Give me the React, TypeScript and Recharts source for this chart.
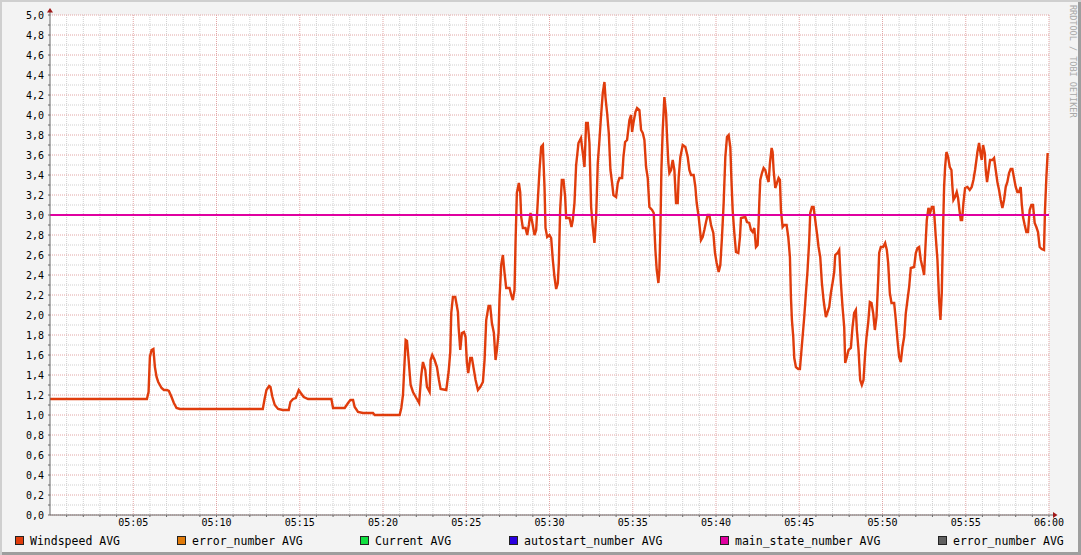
import { LineChart, Line, XAxis, YAxis, CartesianGrid } from 'recharts';

const FONT = '"DejaVu Sans Mono", monospace';

// minutes after 05:00
const windTimes = [
  0, 5.82, 5.92, 6.0, 6.1, 6.21, 6.3, 6.4, 6.5, 6.7, 6.84, 7.02, 7.14, 7.3, 7.44, 7.6, 7.8,
  12.78, 12.9, 13.0, 13.16, 13.24, 13.36, 13.5, 13.7, 13.98, 14.34, 14.44, 14.6, 14.76, 14.94, 15.06, 15.24, 15.5,
  16.9, 17.0, 17.7, 17.9, 18.04, 18.2, 18.3, 18.5, 18.8, 19.4, 19.5,
  21.0, 21.1, 21.2, 21.36, 21.44, 21.54, 21.66, 21.8, 22.0, 22.17, 22.3, 22.4, 22.54, 22.64, 22.8, 22.86, 22.96, 23.1, 23.24, 23.36, 23.46, 23.8, 23.94,
  24.04, 24.1, 24.2, 24.34, 24.5, 24.54, 24.64, 24.74, 24.86, 24.96, 25.04, 25.12, 25.24, 25.34, 25.44, 25.56, 25.7, 25.84, 26.0, 26.1, 26.2, 26.34, 26.44, 26.54, 26.66, 26.76, 26.84, 26.94,
  27.0, 27.1, 27.2, 27.3, 27.4, 27.6, 27.7, 27.8, 27.9, 27.96, 28.04, 28.16, 28.24, 28.3, 28.4, 28.56, 28.66, 28.76, 28.86, 28.96, 29.1, 29.2, 29.3, 29.4, 29.5, 29.6, 29.7, 29.76, 29.86,
  30.0, 30.1, 30.2, 30.3, 30.4, 30.5, 30.56, 30.64, 30.74, 30.84, 30.94, 31.0, 31.2, 31.32, 31.4, 31.5, 31.6, 31.74, 31.89, 32.0, 32.1, 32.2, 32.3, 32.4, 32.5, 32.6, 32.7, 32.8, 32.9,
  33.0, 33.1, 33.2, 33.3, 33.36, 33.46, 33.56, 33.66, 33.76, 33.84, 34.0, 34.1, 34.2, 34.36, 34.44, 34.54, 34.66, 34.8, 34.9, 34.96, 35.04, 35.16, 35.26, 35.4, 35.5, 35.6, 35.7, 35.8, 35.9,
  36.0, 36.16, 36.26, 36.36, 36.44, 36.54, 36.6, 36.66, 36.72, 36.8, 36.9, 37.0, 37.06, 37.14, 37.2, 37.3, 37.4, 37.5, 37.6, 37.7, 37.76, 37.86,
  38.0, 38.16, 38.3, 38.4, 38.5, 38.66, 38.76, 38.84, 38.96, 39.1, 39.2, 39.3, 39.4, 39.5, 39.6, 39.7, 39.84, 39.94,
  40.04, 40.16, 40.26, 40.36, 40.46, 40.56, 40.66, 40.76, 40.86, 40.92, 41.0, 41.1, 41.2, 41.34, 41.44, 41.5, 41.76, 41.86,
  42.0, 42.1, 42.2, 42.3, 42.4, 42.5, 42.56, 42.6, 42.66, 42.76, 42.86, 42.96, 43.06, 43.16, 43.24, 43.34, 43.4, 43.46, 43.56, 43.66, 43.76, 43.84, 43.9,
  44.0, 44.1, 44.24, 44.34, 44.44, 44.5, 44.56, 44.64, 44.7, 44.8, 44.94, 45.04, 45.1, 45.2, 45.3, 45.4, 45.5, 45.6, 45.66, 45.76, 45.86, 45.96,
  46.06, 46.16, 46.26, 46.36, 46.46, 46.6, 46.7, 46.8, 46.9, 47.0, 47.1, 47.16, 47.3, 47.4, 47.5, 47.6, 47.7, 47.76, 47.86, 47.96,
  48.1, 48.2, 48.3, 48.4, 48.46, 48.56, 48.66, 48.76, 48.86, 48.96, 49.04, 49.14, 49.24, 49.34, 49.44, 49.54, 49.64, 49.74, 49.8, 49.9,
  50.04, 50.16, 50.26, 50.34, 50.44, 50.54, 50.7, 50.8, 50.9, 51.0, 51.1, 51.2, 51.3, 51.4, 51.5, 51.6, 51.7, 51.9,
  52.0, 52.1, 52.2, 52.3, 52.4, 52.5, 52.56, 52.66, 52.76, 52.86, 52.96, 53.06, 53.12, 53.2, 53.3, 53.4, 53.48, 53.56, 53.64, 53.7, 53.76, 53.84, 53.94,
  54.04, 54.14, 54.2, 54.26, 54.36, 54.46, 54.54, 54.62, 54.7, 54.78, 54.86, 54.96, 55.1, 55.24, 55.36, 55.46, 55.56, 55.64, 55.7, 55.8, 55.9, 55.96,
  56.04, 56.14, 56.2, 56.28, 56.36, 56.46, 56.6, 56.7, 56.8, 56.9, 57.0, 57.1, 57.2, 57.3, 57.4, 57.5, 57.6, 57.7, 57.8, 57.9,
  58.0, 58.1, 58.2, 58.3, 58.36, 58.44, 58.54, 58.64, 58.74, 58.84, 58.94, 59.04, 59.14, 59.24, 59.34, 59.44, 59.56, 59.7, 59.76, 59.84, 59.92,
];

const windValues = [
  1.16, 1.16, 1.23, 1.58, 1.65, 1.66, 1.48, 1.38, 1.33, 1.27, 1.25, 1.25, 1.24, 1.18, 1.12, 1.07, 1.06,
  1.06, 1.17, 1.25, 1.29, 1.28, 1.18, 1.1, 1.06, 1.05, 1.05, 1.13, 1.16, 1.17, 1.25, 1.22, 1.18, 1.16,
  1.16, 1.07, 1.07, 1.12, 1.15, 1.15, 1.08, 1.03, 1.02, 1.02, 1.0,
  1.0, 1.07, 1.2, 1.75, 1.74, 1.55, 1.3, 1.23, 1.17, 1.12, 1.4, 1.53, 1.45, 1.28, 1.23, 1.55, 1.6, 1.55, 1.48, 1.35, 1.26, 1.25, 1.43,
  1.63, 2.02, 2.18, 2.18, 2.03, 1.88, 1.65, 1.82, 1.83, 1.78, 1.52, 1.42, 1.57, 1.57, 1.47, 1.35, 1.25, 1.28, 1.33, 1.55, 1.95, 2.09, 2.09, 1.92, 1.82, 1.55, 1.65, 1.82,
  2.17, 2.5, 2.6, 2.42, 2.27, 2.27, 2.2, 2.15, 2.25, 2.72, 3.22, 3.32, 3.23, 2.98, 2.87, 2.87, 2.8, 2.9, 3.02, 2.93, 2.8, 2.85, 3.15, 3.45, 3.68, 3.7, 3.28, 2.87, 2.78,
  2.8, 2.77, 2.55, 2.38, 2.26, 2.32, 2.52, 3.05, 3.35, 3.35, 3.18, 2.97, 2.97, 2.88, 2.95, 3.12, 3.5, 3.72, 3.77, 3.62, 3.48, 3.92, 3.92, 3.72, 3.08, 2.88, 2.72, 2.98, 3.52,
  3.75, 4.0, 4.22, 4.33, 4.18, 4.02, 3.82, 3.45, 3.32, 3.2, 3.18, 3.32, 3.37, 3.37, 3.58, 3.73, 3.75, 3.95, 4.0, 3.83, 3.92, 4.03, 4.07, 4.05, 3.85, 3.82, 3.75, 3.48, 3.37,
  3.08, 3.05, 3.02, 2.65, 2.45, 2.32, 2.45, 2.85, 3.45, 3.85, 4.18, 4.02, 3.78, 3.52, 3.42, 3.45, 3.55, 3.45, 3.12, 3.12, 3.38, 3.58,
  3.7, 3.68, 3.58, 3.45, 3.4, 3.4, 3.28, 3.12, 2.98, 2.75, 2.78, 2.85, 2.93, 3.0, 3.0, 2.9, 2.82, 2.62,
  2.52, 2.43, 2.5, 2.78, 3.12, 3.58, 3.78, 3.8, 3.68, 3.38, 3.05, 2.82, 2.63, 2.62, 2.78, 2.97, 2.98, 2.93,
  2.92, 2.85, 2.83, 2.87, 2.68, 2.7, 2.92, 3.12, 3.35, 3.42, 3.47, 3.45, 3.38, 3.33, 3.52, 3.67, 3.63, 3.45, 3.27, 3.32, 3.37, 3.35, 3.05,
  2.88, 2.9, 2.9, 2.78, 2.58, 2.18, 1.95, 1.78, 1.57, 1.48, 1.46, 1.46, 1.58, 1.78, 1.98, 2.22, 2.45, 2.75, 3.02, 3.08, 3.08, 2.95,
  2.82, 2.68, 2.58, 2.32, 2.15, 1.98, 2.03, 2.08, 2.22, 2.32, 2.43, 2.6, 2.62, 2.65, 2.32, 2.08, 1.88, 1.52, 1.58, 1.65,
  1.67, 1.88, 2.02, 2.05, 1.85, 1.65, 1.35, 1.3, 1.35, 1.62, 1.78, 1.92, 2.13, 2.12, 2.02, 1.85, 1.98, 2.35, 2.62, 2.68,
  2.68, 2.72, 2.65, 2.52, 2.22, 2.12, 2.12, 1.95, 1.75, 1.58, 1.53, 1.68, 1.78, 2.02, 2.15, 2.28, 2.47, 2.48,
  2.62, 2.67, 2.68, 2.55, 2.48, 2.4, 2.62, 2.95, 3.07, 3.02, 3.08, 3.08, 2.98, 2.78, 2.55, 2.15, 1.95, 2.22, 2.88, 3.28, 3.48, 3.63, 3.58,
  3.48, 3.45, 3.28, 3.15, 3.18, 3.23, 3.17, 3.05, 2.95, 2.95, 3.12, 3.27, 3.28, 3.25, 3.28, 3.35, 3.45, 3.55, 3.63, 3.72, 3.6, 3.55,
  3.7, 3.62, 3.45, 3.33, 3.43, 3.55, 3.55, 3.57, 3.45, 3.33, 3.25, 3.15, 3.07, 3.15, 3.28, 3.33, 3.42, 3.46, 3.46, 3.37,
  3.28, 3.23, 3.23, 3.28, 3.12, 2.98, 2.9, 2.83, 2.83, 3.05, 3.1, 3.1, 2.92, 2.88, 2.83, 2.68, 2.66, 2.65, 3.05, 3.37, 3.62,
];

const mainStateTimes = [0, 60];
const mainStateValues = [3, 3];

const legendLabels = [
  'Windspeed AVG',
  'error_number AVG',
  'Current AVG',
  'autostart_number AVG',
  'main_state_number AVG',
  'error_number AVG',
];
const legendColors = ['#e03c0c', '#e07a0a', '#10e040', '#2a00e0', '#e000a0', '#606060'];
const legendX = [15, 177, 360, 509, 720, 938];

const xTicks = Array.from({ length: 60 }, (_, i) => i + 1);
const yTicks = Array.from({ length: 51 }, (_, i) => i / 10);
const xMajor = xTicks.filter((m) => m % 5 === 0);
const xMinor = xTicks.filter((m) => m % 5 !== 0);
const yMajor = yTicks.filter((_, i) => i % 2 === 0);
const yMinor = yTicks.filter((_, i) => i % 2 === 1);

const windData = windTimes.map((t, i) => ({ t, v: windValues[i] }));
const mainStateData = mainStateTimes.map((t, i) => ({ t, v: mainStateValues[i] }));

const fmtTime = (m: number) => {
  if (m % 5 !== 0) return '';
  const h = 5 + Math.floor(m / 60);
  const mm = m % 60;
  return `${String(h).padStart(2, '0')}:${String(mm).padStart(2, '0')}`;
};

const fmtValue = (v: number) =>
  Math.round(v * 10) % 2 === 0 ? v.toFixed(1).replace('.', ',') : '';

const tickStyle = { fontFamily: FONT, fontSize: 10, fill: '#000000' };

export default function App() {
  return (
    <div
      style={{
        position: 'absolute',
        left: 0,
        top: 0,
        width: 1081,
        height: 555,
        background: '#f3f3f3',
        boxShadow: 'inset 2px 2px 0 #cfcfcf, inset -3px -3px 0 #9e9e9e',
        fontFamily: FONT,
      }}
    >
      <div style={{ position: 'absolute', left: 0, top: 0 }}>
        <LineChart
          width={1081}
          height={555}
          data={windData}
          margin={{ top: 15, right: 32, bottom: 20, left: 0 }}
        >
          <CartesianGrid
            fill="#ffffff"
            stroke="#cfcfcf"
            strokeDasharray="1 1"
            horizontalValues={yMinor}
            verticalValues={xMinor}
          />
          <CartesianGrid
            stroke="#e2a4a4"
            strokeDasharray="1 1"
            horizontalValues={yMajor}
            verticalValues={xMajor}
          />
          <XAxis
            type="number"
            dataKey="t"
            domain={[0, 60]}
            ticks={xTicks}
            interval={0}
            height={20}
            tickSize={2}
            tickMargin={2}
            tickFormatter={fmtTime}
            tick={tickStyle}
            axisLine={{ stroke: '#6a6a6a' }}
            tickLine={{ stroke: '#6a6a6a' }}
            allowDataOverflow
          />
          <YAxis
            type="number"
            domain={[0, 5]}
            ticks={yTicks}
            interval={0}
            width={50}
            tickSize={2}
            tickMargin={4}
            tickFormatter={fmtValue}
            tick={tickStyle}
            axisLine={{ stroke: '#6a6a6a' }}
            tickLine={{ stroke: '#6a6a6a' }}
            allowDataOverflow
          />
          <Line
            type="linear"
            dataKey="v"
            stroke={legendColors[0]}
            strokeWidth={2.4}
            dot={false}
            isAnimationActive={false}
          />
          <Line
            type="linear"
            data={mainStateData}
            dataKey="v"
            stroke={legendColors[4]}
            strokeWidth={2}
            dot={false}
            isAnimationActive={false}
          />
        </LineChart>
      </div>

      {/* axis arrows + watermark */}
      <svg
        width={1081}
        height={555}
        style={{ position: 'absolute', left: 0, top: 0, pointerEvents: 'none' }}
      >
        <line x1={50} y1={10} x2={50} y2={15} stroke="#6a6a6a" />
        <polygon points="47,12.5 53,12.5 50,8" fill="#a01818" />
        <line x1={1049} y1={515} x2={1055} y2={515} stroke="#6a6a6a" />
        <polygon points="1053,512 1053,518 1057.5,515" fill="#a01818" />
        <text
          transform="translate(1069.5,5) rotate(90)"
          fontFamily={FONT}
          fontSize={8.5}
          fill="#a8a8a8"
        >
          RRDTOOL / TOBI OETIKER
        </text>
      </svg>

      <div style={{ position: 'absolute', left: 0, top: 533, width: 1081, height: 15 }}>
        {legendLabels.map((label, i) => (
          <div
            key={i}
            style={{
              position: 'absolute',
              left: legendX[i],
              top: 0,
              height: 15,
              display: 'flex',
              alignItems: 'center',
              whiteSpace: 'pre',
              fontSize: 11.5,
              color: '#000',
            }}
          >
            <span
              style={{
                width: 7,
                height: 7,
                flexShrink: 0,
                border: '1px solid #222',
                background: legendColors[i],
                marginRight: 6,
              }}
            />
            {label}
          </div>
        ))}
      </div>
    </div>
  );
}
